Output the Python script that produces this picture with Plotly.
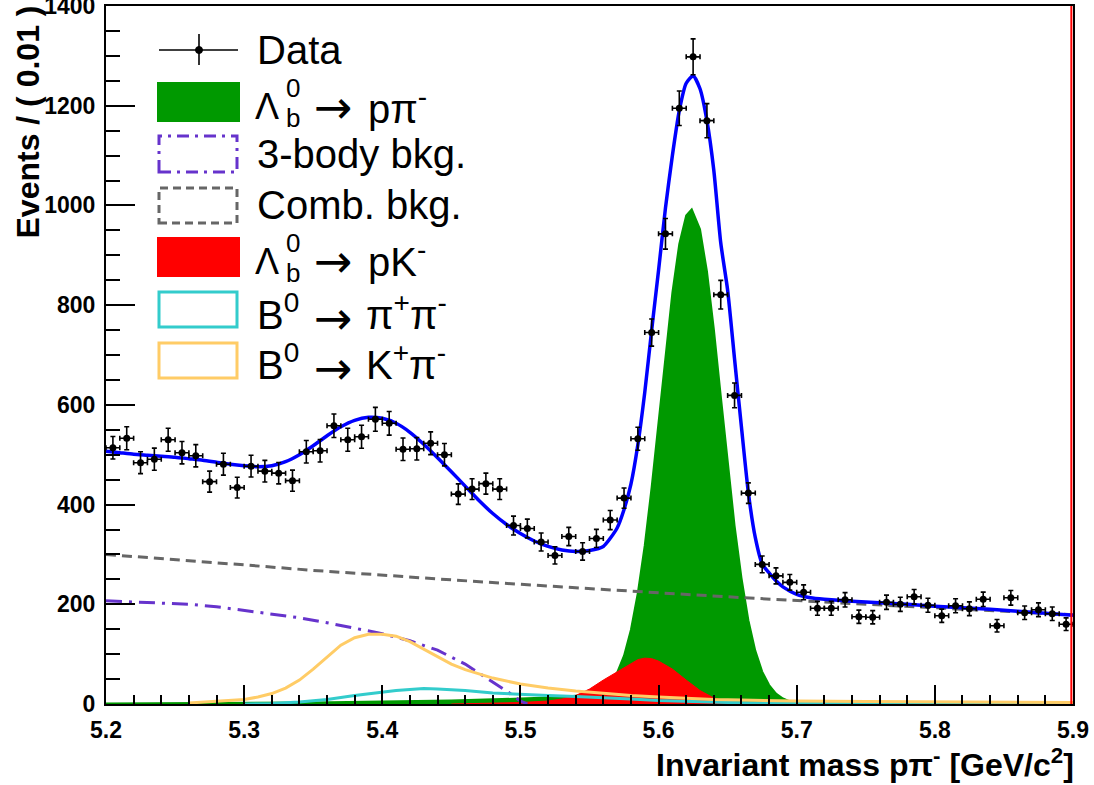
import numpy as np
import plotly.graph_objects as go

# ---------------- binned data: events per 0.01 GeV/c^2 ----------------
mass_lo, mass_hi, bin_w = 5.20, 5.90, 0.01
counts = [
    514, 533, 484, 491, 530, 504, 498, 446, 481, 434,
    477, 467, 463, 448, 506, 508, 558, 530, 536, 571,
    563, 511, 512, 523, 500, 421, 431, 442, 431, 358,
    352, 325, 298, 336, 306, 332, 369, 413, 532, 745,
    943, 1195, 1298, 1170, 821, 619, 423, 280, 257, 244,
    224, 192, 192, 209, 175, 174, 204, 200, 215, 198,
    177, 197, 191, 210, 157, 213, 183, 189, 181, 160,
]
bin_centers = mass_lo + bin_w * (np.arange(len(counts)) + 0.5)

# ---------------- fit projections ----------------
total_m = [5.20, 5.21, 5.22, 5.23, 5.24, 5.25, 5.26, 5.27, 5.28, 5.29,
           5.30, 5.31, 5.32, 5.33, 5.34, 5.35, 5.36, 5.37, 5.38, 5.39,
           5.40, 5.41, 5.42, 5.43, 5.44, 5.45, 5.46, 5.47, 5.48, 5.49,
           5.50, 5.51, 5.52, 5.53, 5.54, 5.55, 5.56, 5.57, 5.575, 5.58,
           5.585, 5.59, 5.595, 5.60, 5.605, 5.61, 5.615, 5.62, 5.625, 5.63,
           5.635, 5.64, 5.645, 5.65, 5.655, 5.66, 5.665, 5.67, 5.675, 5.68,
           5.685, 5.69, 5.70, 5.71, 5.72, 5.74, 5.76, 5.78, 5.80, 5.82,
           5.84, 5.86, 5.88, 5.90]
total_y = [507, 504, 501, 499, 497, 495, 492, 489, 485, 481,
           478, 476, 478, 486, 500, 518, 538, 556, 569, 575,
           573, 563, 545, 521, 494, 466, 437, 408, 382, 360,
           342, 327, 316, 309, 306, 308, 316, 353, 390, 441,
           520, 625, 750, 870, 995, 1100, 1190, 1245, 1260, 1234,
           1170, 1070, 925, 830, 692, 555, 424, 334, 281, 263,
           247, 235, 220, 213, 210, 206, 203, 200, 196, 193,
           190, 186, 182, 178]

sig_m = [5.20, 5.30, 5.35, 5.40, 5.45, 5.50, 5.53, 5.55, 5.56, 5.565,
         5.57, 5.575, 5.58, 5.585, 5.59, 5.595, 5.60, 5.605, 5.61, 5.615,
         5.62, 5.624, 5.63, 5.635, 5.64, 5.645, 5.65, 5.655, 5.66, 5.665,
         5.67, 5.675, 5.68, 5.685, 5.69, 5.695, 5.70, 5.72, 5.90]
sig_y = [1, 2, 3, 5, 7, 11, 14, 19, 27, 41,
         63, 97, 149, 223, 318, 435, 566, 700, 825, 923,
         980, 992, 952, 868, 752, 618, 483, 358, 253, 168,
         107, 65, 38, 21, 11, 5, 2, 1, 1]

three_body_m = [5.20, 5.22, 5.24, 5.26, 5.28, 5.30, 5.32, 5.34, 5.36, 5.38,
                5.40, 5.42, 5.44, 5.46, 5.47, 5.48, 5.49, 5.50, 5.505]
three_body_y = [207, 205, 203, 200, 195, 188, 181, 173, 163, 152,
                141, 127, 108, 80, 62, 44, 26, 6, 0]

comb_m = [5.20, 5.25, 5.30, 5.35, 5.40, 5.45, 5.50, 5.55, 5.60, 5.65,
          5.70, 5.75, 5.80, 5.85, 5.90]
comb_y = [300, 290, 279, 268, 258, 249, 240, 231, 223, 215,
          207, 200, 193, 186, 179]

pk_m = [5.45, 5.48, 5.50, 5.52, 5.53, 5.54, 5.55, 5.56, 5.57, 5.58,
        5.585, 5.59, 5.595, 5.60, 5.61, 5.62, 5.63, 5.64, 5.65, 5.66,
        5.68, 5.70]
pk_y = [0, 1, 3, 6, 10, 17, 30, 48, 65, 82,
        89, 92, 91, 86, 70, 48, 27, 12, 5, 2,
        0, 0]

pipi_m = [5.30, 5.32, 5.34, 5.36, 5.38, 5.40, 5.41, 5.42, 5.43, 5.44,
          5.45, 5.46, 5.48, 5.50, 5.52, 5.54, 5.56, 5.58, 5.60, 5.62,
          5.65, 5.70, 5.90]
pipi_y = [0, 1, 4, 9, 17, 24, 27, 29, 31, 30,
          29, 27, 22, 19, 17, 15, 13, 10, 7, 5,
          3, 1, 0]

kpi_m = [5.26, 5.28, 5.30, 5.31, 5.32, 5.33, 5.34, 5.35, 5.36, 5.37,
         5.38, 5.39, 5.40, 5.41, 5.42, 5.43, 5.44, 5.45, 5.46, 5.47,
         5.48, 5.50, 5.52, 5.54, 5.56, 5.58, 5.60, 5.62, 5.64, 5.66,
         5.70, 5.75, 5.80, 5.90]
kpi_y = [2, 5, 9, 14, 21, 32, 48, 70, 95, 118,
         133, 140, 140, 136, 125, 110, 95, 80, 69, 60,
         52, 40, 32, 26, 21, 17, 14, 11, 9, 8,
         6, 5, 4, 3]

# colours
C_SIG = "#009900"
C_PK = "#ff0000"
C_3B = "#6633cc"
C_COMB = "#666666"
C_PIPI = "#33cccc"
C_KPI = "#ffcc66"
C_TOT = "#0000ff"

FONT = "Liberation Sans, Arial, Helvetica, sans-serif"
ARROW_FONT = "DejaVu Sans, sans-serif"

fig = go.Figure()

# filled signal shapes
fig.add_trace(go.Scatter(x=sig_m, y=sig_y, mode="lines", fill="tozeroy",
                         fillcolor=C_SIG, line=dict(color=C_SIG, width=2)))
fig.add_trace(go.Scatter(x=pk_m, y=pk_y, mode="lines", fill="tozeroy",
                         fillcolor=C_PK, line=dict(color=C_PK, width=1)))
# background components
fig.add_trace(go.Scatter(x=comb_m, y=comb_y, mode="lines",
                         line=dict(color=C_COMB, width=3, dash="10px,6px")))
fig.add_trace(go.Scatter(x=three_body_m, y=three_body_y, mode="lines",
                         line=dict(color=C_3B, width=3, dash="16px,7px,3px,7px")))
fig.add_trace(go.Scatter(x=pipi_m, y=pipi_y, mode="lines",
                         line=dict(color=C_PIPI, width=3)))
fig.add_trace(go.Scatter(x=kpi_m, y=kpi_y, mode="lines",
                         line=dict(color=C_KPI, width=3)))
# total fit
fig.add_trace(go.Scatter(x=total_m, y=total_y, mode="lines", line_shape="spline",
                         line=dict(color=C_TOT, width=3.5, smoothing=0.6)))
# data with Poisson errors and half-bin horizontal errors
fig.add_trace(go.Scatter(
    x=bin_centers, y=counts, mode="markers",
    marker=dict(color="black", size=7),
    error_y=dict(type="data", array=np.sqrt(counts), color="black",
                 thickness=1.6, width=2.5),
    error_x=dict(type="data", array=[bin_w / 2] * len(counts), color="black",
                 thickness=1.6, width=2.5),
))

# ---------------- geometry helpers (pixels -> paper) ----------------
W, H = 1094, 785
PL, PR, PT, PB = 106, 1073, 6, 704


def fx(x):
    return (x - PL) / (PR - PL)


def fy(y):
    return (PB - y) / (PB - PT)


shapes = []
annotations = []


def text(x, y, s, size, anchor="left", yanchor="middle", bold=False, angle=0,
         family=FONT):
    annotations.append(dict(
        x=fx(x), y=fy(y), xref="paper", yref="paper", text=s, showarrow=False,
        xanchor=anchor, yanchor=yanchor, textangle=angle,
        font=dict(family=family, size=size, color="black",
                  weight="bold" if bold else "normal"),
    ))


def box(x0, y0, x1, y1, color, fill=None, dash="solid", width=3):
    shapes.append(dict(
        type="rect", xref="paper", yref="paper",
        x0=fx(x0), x1=fx(x1), y0=fy(y1), y1=fy(y0),
        line=dict(color=color, width=width, dash=dash),
        fillcolor=fill if fill else "rgba(0,0,0,0)",
    ))


def seg(x0, y0, x1, y1, color="black", width=1.6):
    shapes.append(dict(type="line", xref="paper", yref="paper",
                       x0=fx(x0), x1=fx(x1), y0=fy(y0), y1=fy(y1),
                       line=dict(color=color, width=width)))


def arrow(y):
    text(312, y, "→", 46, family=ARROW_FONT)


# ---------------- legend ----------------
TX = 255
LEG = 40
# Data
seg(159, 50, 238, 50)
seg(199, 34, 199, 65)
shapes.append(dict(type="circle", xref="paper", yref="paper",
                   x0=fx(195.5), x1=fx(202.5), y0=fy(53.5), y1=fy(46.5),
                   fillcolor="black", line=dict(color="black", width=1)))
text(TX, 50, "Data", LEG)

# Lambda_b -> p pi
box(158, 83, 239, 121, C_SIG, fill=C_SIG, width=2)
text(253, 106, "Λ", 36)
text(284, 88, "0", 26)
text(284, 118, "b", 26)
arrow(107)
text(366, 106, "pπ<sup>-</sup>", LEG)

# 3-body
box(159, 136, 237, 172, C_3B, dash="12px,6px,3px,6px")
text(TX, 154, "3-body bkg.", LEG)

# combinatorial
box(159, 188, 237, 223, C_COMB, dash="8px,5px")
text(TX, 205, "Comb. bkg.", LEG)

# Lambda_b -> p K
box(158, 238, 239, 276, C_PK, fill=C_PK, width=2)
text(253, 261, "Λ", 36)
text(284, 243, "0", 26)
text(284, 273, "b", 26)
arrow(261)
text(366, 259, "pK<sup>-</sup>", LEG)

# B0 -> pi pi
box(159, 292, 237, 327, C_PIPI)
text(TX, 312, "B<sup>0</sup>", LEG)
arrow(318)
text(364, 312, "π<sup>+</sup>π<sup>-</sup>", LEG)

# B0 -> K pi
box(159, 343, 237, 378, C_KPI)
text(TX, 362, "B<sup>0</sup>", LEG)
arrow(368)
text(364, 362, "K<sup>+</sup>π<sup>-</sup>", LEG)

# ---------------- axis titles ----------------
text(1076, 763, "Invariant mass pπ<sup>-</sup> [GeV/c<sup>2</sup>]", 32,
     anchor="right", bold=True)
text(27, 4, "Events / ( 0.01 )", 32, anchor="center", yanchor="top",
     bold=True, angle=-90)

# red edge line at the upper end of the mass range
shapes.append(dict(type="line", xref="x", yref="paper",
                   x0=mass_hi - 0.0012, x1=mass_hi - 0.0012, y0=0, y1=1,
                   line=dict(color="red", width=2)))

tickfont = dict(family=FONT, size=23, color="black", weight="bold")

fig.update_layout(
    width=W, height=H, autosize=False,
    margin=dict(l=PL, r=W - PR, t=PT, b=H - PB, autoexpand=False),
    paper_bgcolor="white", plot_bgcolor="white",
    showlegend=False,
    shapes=shapes, annotations=annotations,
    xaxis=dict(
        range=[mass_lo, mass_hi], showgrid=False, zeroline=False,
        automargin=False,
        showline=True, linecolor="black", linewidth=2, mirror=True,
        ticks="inside", ticklen=19, tickwidth=2, tickcolor="black",
        tick0=5.2, dtick=0.1, tickformat=".1f", tickfont=tickfont,
        ticklabelstandoff=4, ticklabeloverflow="allow",
        minor=dict(ticks="inside", dtick=0.02, ticklen=9, tickwidth=2,
                   tickcolor="black", showgrid=False),
    ),
    yaxis=dict(
        range=[0, 1400], showgrid=False, zeroline=False,
        automargin=False,
        showline=True, linecolor="black", linewidth=2, mirror=True,
        ticks="inside", ticklen=29, tickwidth=2, tickcolor="black",
        tick0=0, dtick=200, tickfont=tickfont, ticklabelstandoff=4,
        ticklabeloverflow="allow",
        minor=dict(ticks="inside", dtick=50, ticklen=14, tickwidth=2,
                   tickcolor="black", showgrid=False),
    ),
)

fig.write_html("out.html")
